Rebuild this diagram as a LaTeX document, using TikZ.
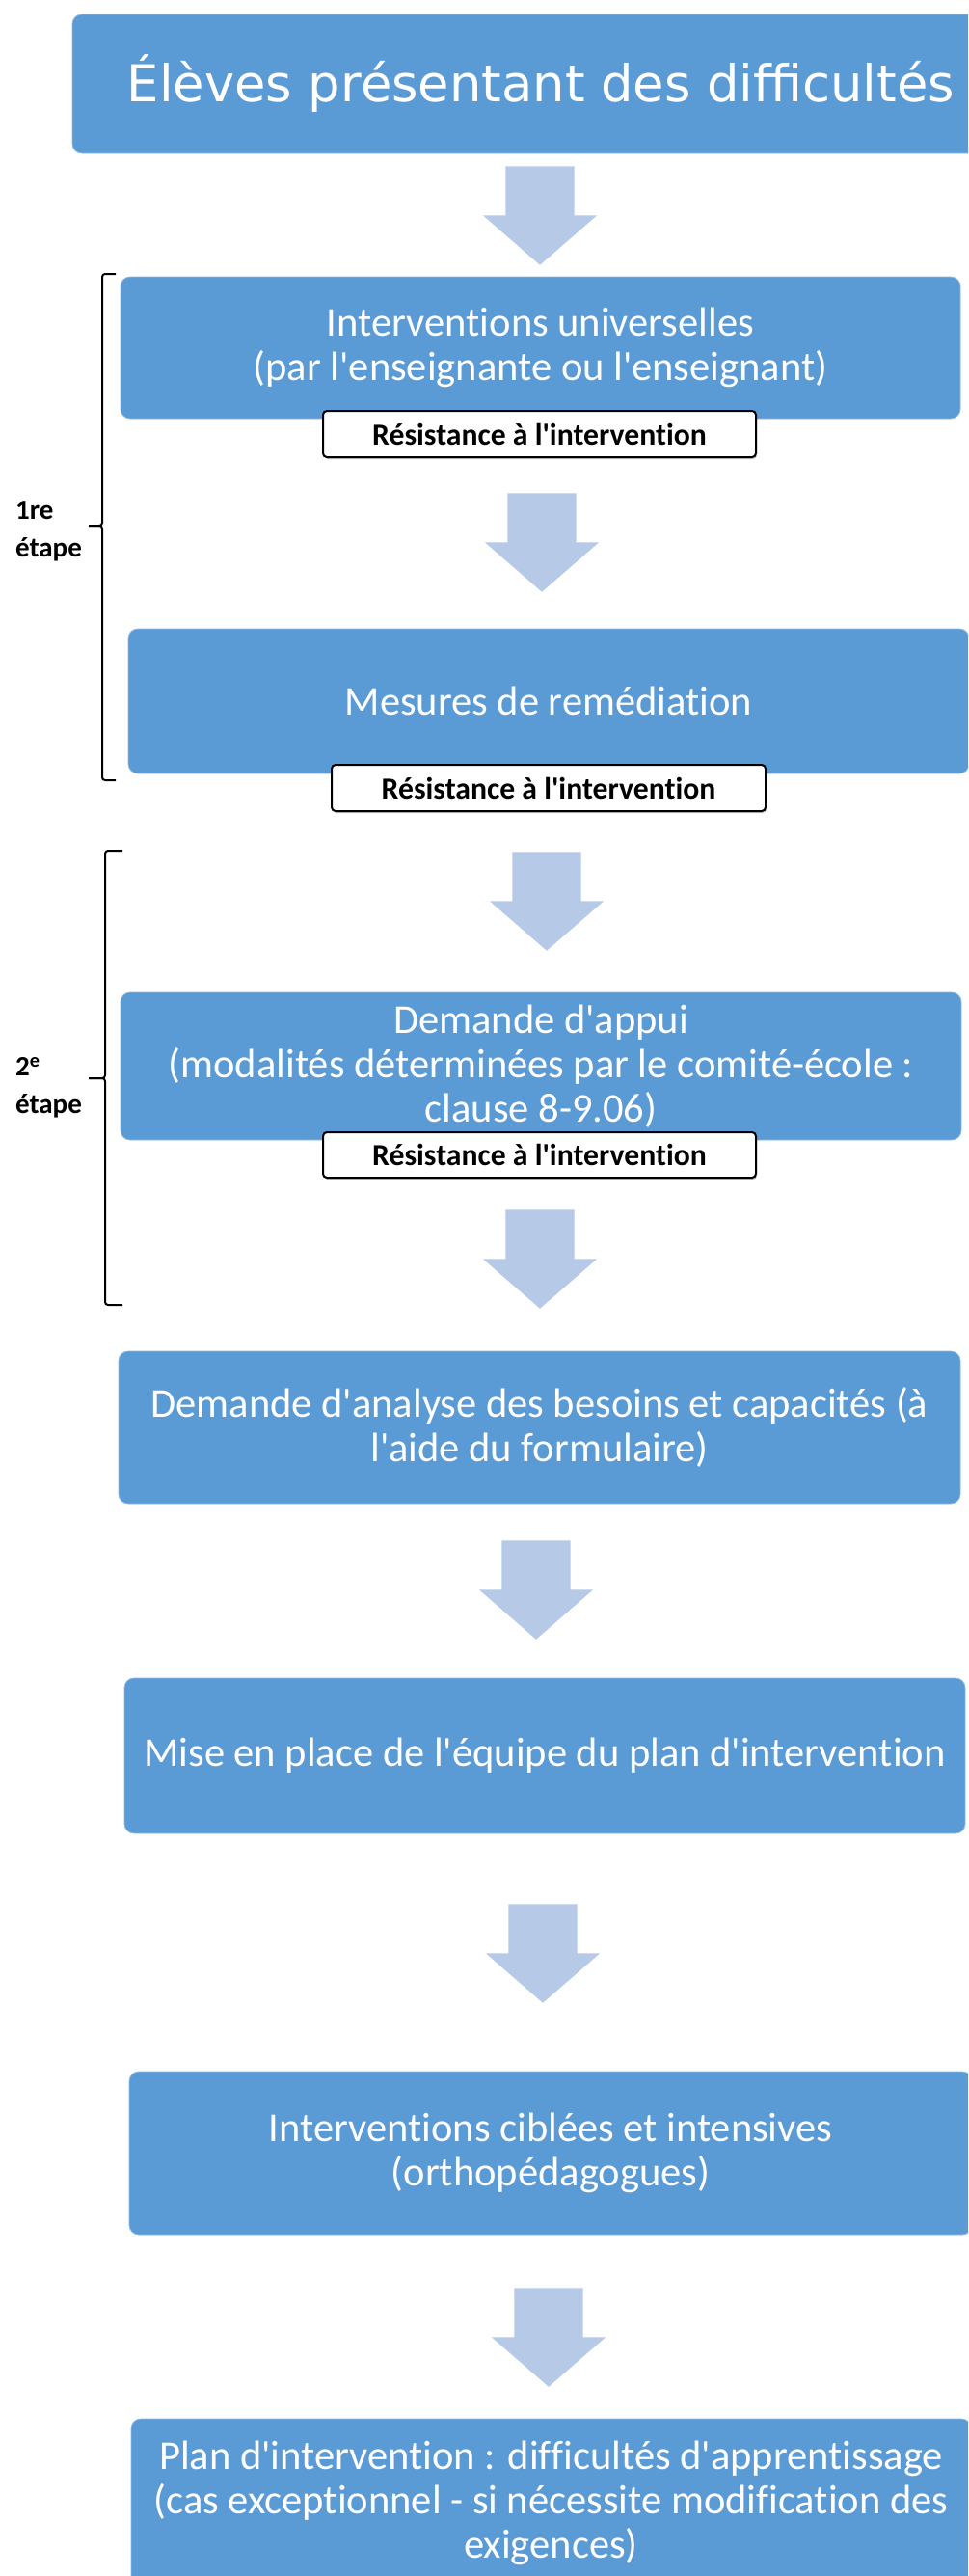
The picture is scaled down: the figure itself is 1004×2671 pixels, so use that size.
\documentclass[tikz,border=0pt]{standalone}
\usepackage{fontspec}
\usepackage{tikz}
\usetikzlibrary{shapes.arrows, shadows}
\newfontfamily\boxfont{Carlito}[Ligatures=NoCommon]
\newfontfamily\titlefont{DejaVu Sans}
\definecolor{boxblue}{HTML}{5B9BD5}
\definecolor{arrowblue}{HTML}{B6CAE8}

\begin{document}
\begin{tikzpicture}[x=1pt,y=-1pt,
        stepbox/.style={rectangle,rounded corners=10pt,fill=boxblue,draw=boxblue!70!white,line width=0.8pt,
            text=white,align=center,inner sep=0pt,minimum width=872pt,
            font=\boxfont\fontsize{42.5}{46}\selectfont},
        resist/.style={rectangle,rounded corners=4pt,fill=white,draw=black,line width=2pt,
            minimum width=449pt,minimum height=48pt,inner sep=0pt,
            drop shadow={shadow xshift=1pt,shadow yshift=-2pt,fill=black,opacity=0.25},
            font=\boxfont\bfseries\fontsize{31.7}{34}\selectfont},
        downarrow/.style={single arrow,shape border rotate=270,fill=arrowblue,draw=none,
            minimum height=101pt,minimum width=118pt,single arrow head extend=23.5pt,
            single arrow tip angle=98,inner sep=35.5pt,anchor=tip},
        bracket/.style={line width=2pt,rounded corners=3pt},
        steplabel/.style={anchor=west,align=left,inner sep=0pt,
            font=\boxfont\bfseries\fontsize{29}{39}\selectfont}]
        \useasboundingbox (0,0) rectangle (1004,2671);
        \clip (0,0) rectangle (1004,2671);

        % main steps
        \node[stepbox,minimum width=972pt,minimum height=144pt,
            font=\titlefont\fontsize{52.7}{60}\selectfont] (0) at (561,87) {Élèves présentant des difficultés};
        \node[stepbox,minimum width=871pt,minimum height=147pt] (1) at (560.5,360.5)
            {Interventions universelles\\(par l'enseignante ou l'enseignant)};
        \node[stepbox,minimum height=150pt] (2) at (569,727) {Mesures de remédiation};
        \node[stepbox,minimum height=153pt] (3) at (561,1105.5)
            {Demande d'appui\\(modalités déterminées par le comité-école :\\clause 8-9.06)};
        \node[stepbox,minimum width=873pt,minimum height=158pt] (4) at (559.5,1480)
            {Demande d'analyse des besoins et capacités (à\\l'aide du formulaire)};
        \node[stepbox,minimum height=161pt] (5) at (565,1820.5)
            {Mise en place de l'équipe du plan d'intervention};
        \node[stepbox,minimum width=874pt,minimum height=169pt] (6) at (571,2232.5)
            {Interventions ciblées et intensives\\(orthopédagogues)};
        \node[stepbox,minimum width=871pt,minimum height=174pt] (7) at (571.5,2595)
            {Plan d'intervention : difficultés d'apprentissage\\(cas exceptionnel - si nécessite modification des\\exigences)};

        % resistance labels
        \node[resist] (r1) at (559.5,450) {Résistance à l'intervention};
        \node[resist,minimum width=450pt] (r2) at (569,817) {Résistance à l'intervention};
        \node[resist,minimum height=47pt] (r3) at (559.5,1197.5) {Résistance à l'intervention};

        % block arrows
        \node[downarrow] (a1) at (560,275) {};
        \node[downarrow] (a2) at (562,614) {};
        \node[downarrow] (a3) at (567,986) {};
        \node[downarrow] (a4) at (560,1357) {};
        \node[downarrow] (a5) at (556,1700) {};
        \node[downarrow] (a6) at (563,2077) {};
        \node[downarrow] (a7) at (569,2475) {};

        % brackets
        \draw[bracket] (120,284) -| (106,545) -- (92,545);
        \draw[bracket] (92,545) -- (106,545) |- (120,809);
        \draw[bracket] (127,882) -| (109,1118) -- (92,1118);
        \draw[bracket] (92,1118) -- (109,1118) |- (127,1353);
        \node[steplabel] (s1) at (16,551) {1re\\étape};
        \node[steplabel] (s2) at (16,1128) {2\textsuperscript{e}\\étape};
    \end{tikzpicture}
\end{document}
